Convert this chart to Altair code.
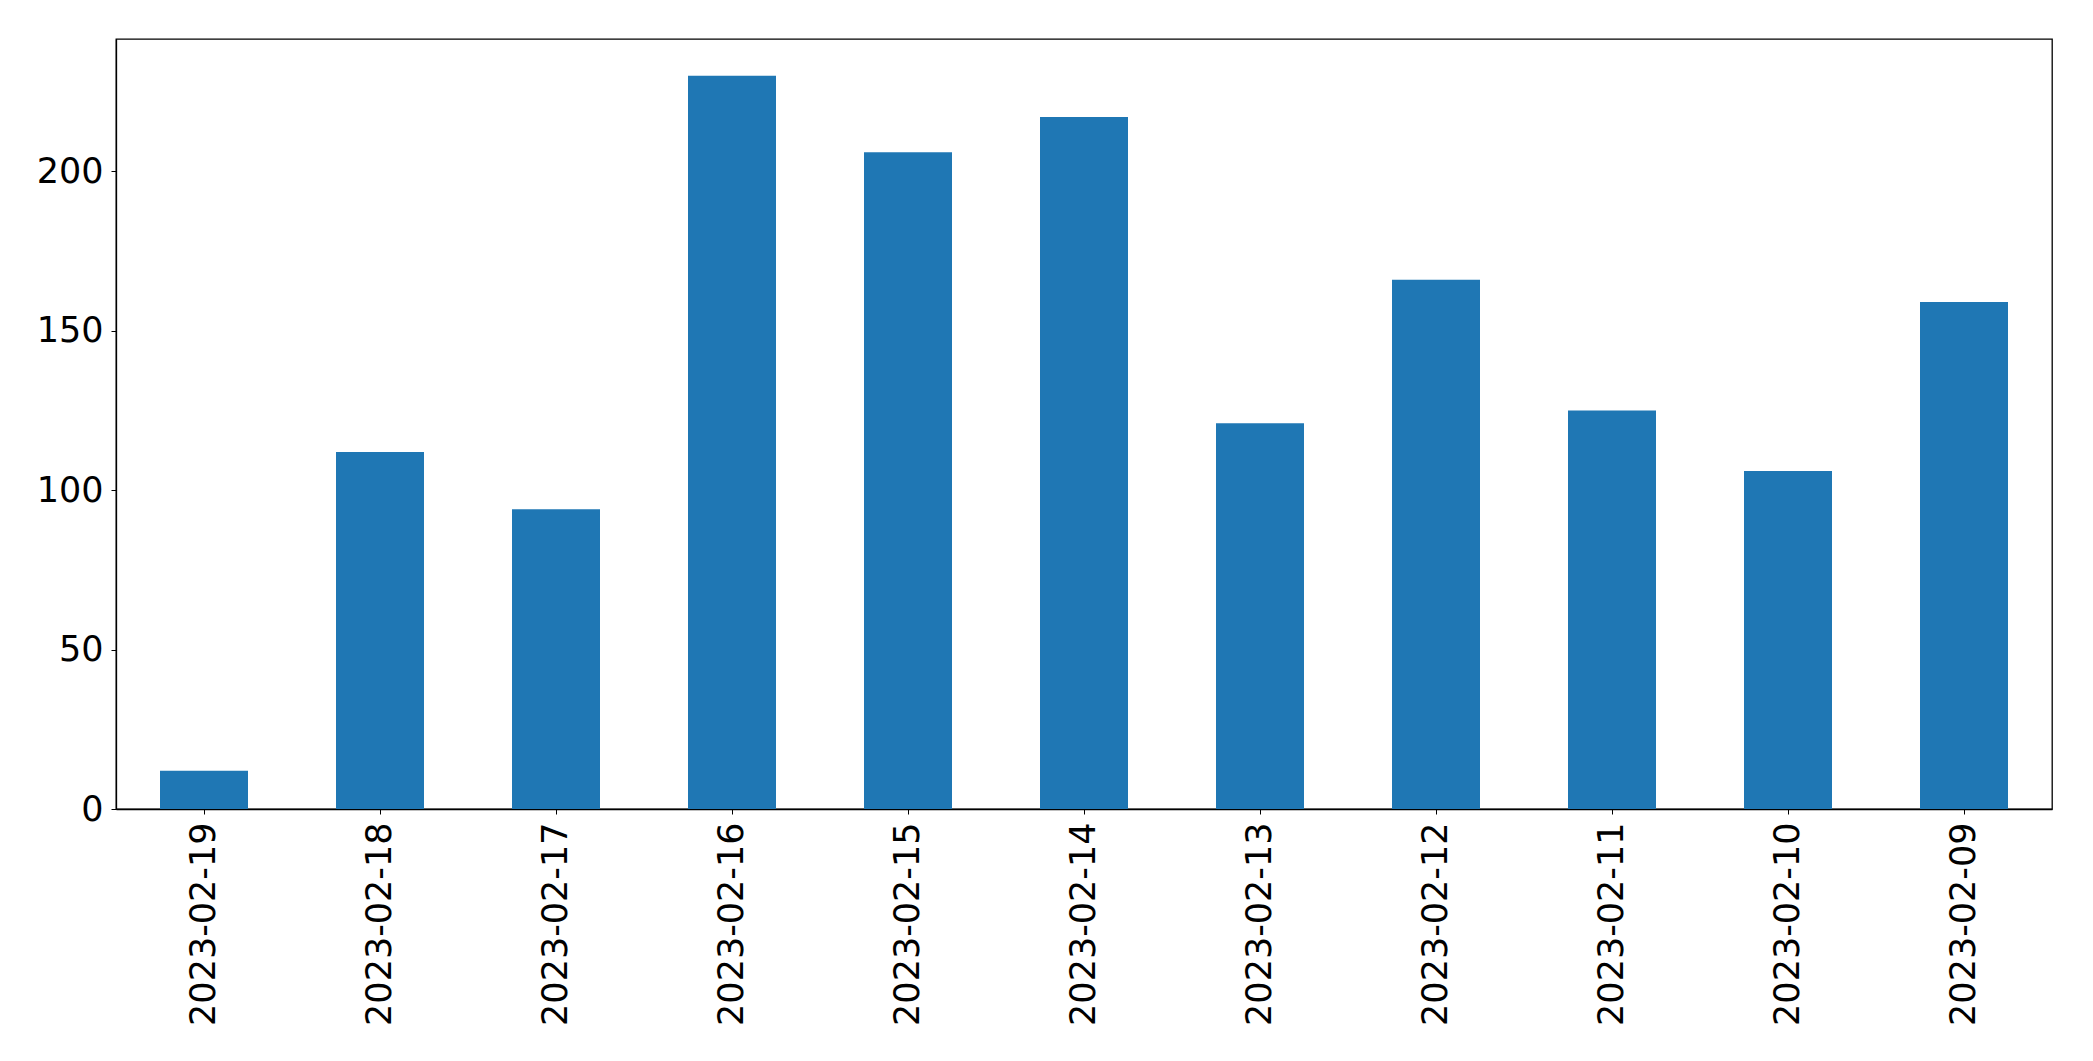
import altair as alt
import pandas as pd

dates = ["2023-02-19", "2023-02-18", "2023-02-17", "2023-02-16", "2023-02-15",
         "2023-02-14", "2023-02-13", "2023-02-12", "2023-02-11", "2023-02-10",
         "2023-02-09"]
counts = [12, 112, 94, 230, 206, 217, 121, 166, 125, 106, 159]
y_ticks = [0, 50, 100, 150, 200]

df = pd.DataFrame({"date": dates, "count": counts})

chart = alt.Chart(df).mark_bar(color="#1f77b4").encode(
    x=alt.X("date:N", sort=dates, title=None,
            scale=alt.Scale(paddingInner=0.5, paddingOuter=0.25),
            axis=alt.Axis(labelAngle=-90, labelFontSize=35, labelColor="black",
                          labelFont="DejaVu Sans", tickColor="black", tickSize=5,
                          tickWidth=1, domainColor="black", domainWidth=1.3,
                          labelPadding=8, labelLimit=0, grid=False)),
    y=alt.Y("count:Q", title=None,
            scale=alt.Scale(domain=[0, 241.5], nice=False, zero=True),
            axis=alt.Axis(values=y_ticks, labelFontSize=35, labelColor="black",
                          labelFont="DejaVu Sans", tickColor="black", tickSize=5,
                          tickWidth=1, domainColor="black", domainWidth=1.3,
                          labelPadding=8, grid=False)),
).properties(
    width=1936,
    height=770,
    autosize=alt.AutoSizeParams(type="none"),
    padding={"left": 108, "top": 31, "right": 30, "bottom": 240},
).configure_view(
    stroke="black", strokeWidth=1.3
)

chart.save("out.html", embed_options={"renderer": "svg", "actions": False})
